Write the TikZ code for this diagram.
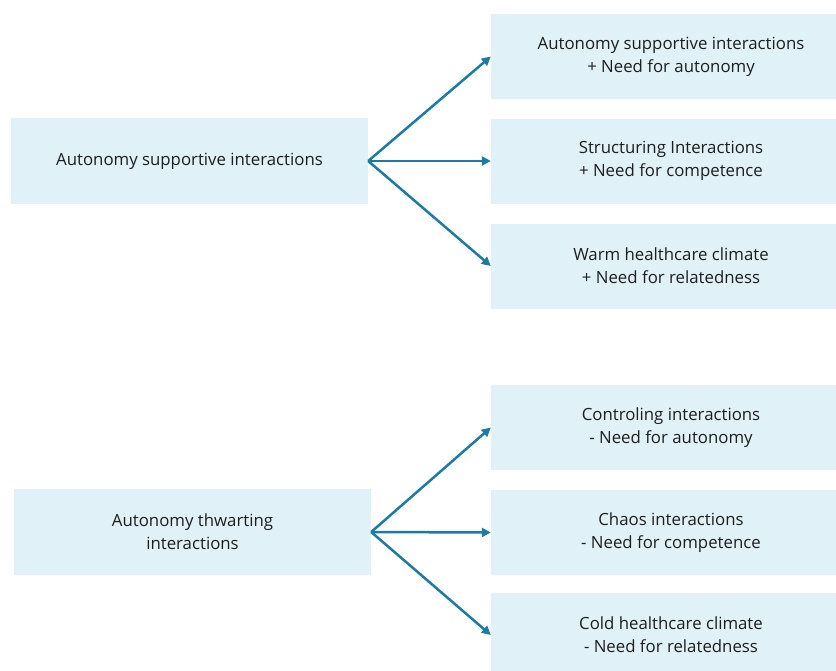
\documentclass[tikz,border=0pt]{standalone}
\usepackage{fontspec}
\setmainfont{Open Sans}
\usetikzlibrary{arrows.meta}
\definecolor{boxfill}{RGB}{224,241,248}
\definecolor{arrowblue}{RGB}{26,122,168}
\definecolor{textgray}{RGB}{30,30,30}
\begin{document}
\begin{tikzpicture}[x=1pt,y=-1pt,
  box/.style={fill=boxfill, draw=none, inner sep=0pt, align=center,
    text=textgray, font=\fontsize{16.8}{23}\selectfont},
  leftbox/.style={box, minimum width=357pt, minimum height=86pt},
  rightbox/.style={box, minimum width=360pt, minimum height=85pt},
  link/.style={draw=arrowblue, line width=2.5pt,
    -{Triangle[length=9pt,width=9pt]}}]
\useasboundingbox (0,0) rectangle (836,670);
\clip (0,0) rectangle (836,670);

% supportive side
\node[leftbox] (L1) at (189.5,161) {Autonomy supportive interactions};
\node[rightbox] (R1) at (671,56.5) {Autonomy supportive interactions\\+ Need for autonomy};
\node[rightbox] (R2) at (671,161) {Structuring Interactions\\+ Need for competence};
\node[rightbox] (R3) at (671,266) {Warm healthcare climate\\+ Need for relatedness};

% thwarting side
\node[leftbox] (L2) at (192.5,532) {Autonomy thwarting\\interactions};
\node[rightbox] (R4) at (671,427.5) {Controling interactions\\- Need for autonomy};
\node[rightbox] (R5) at (671,532.5) {Chaos interactions\\- Need for competence};
\node[rightbox] (R6) at (671,635) {Cold healthcare climate\\- Need for relatedness};

\coordinate (o1) at (L1.east);
\coordinate (o2) at (L2.east);
\foreach \t in {R1,R2,R3} \draw[link] (o1) -- (\t.west);
\foreach \t in {R4,R5,R6} \draw[link] (o2) -- (\t.west);
\end{tikzpicture}
\end{document}
